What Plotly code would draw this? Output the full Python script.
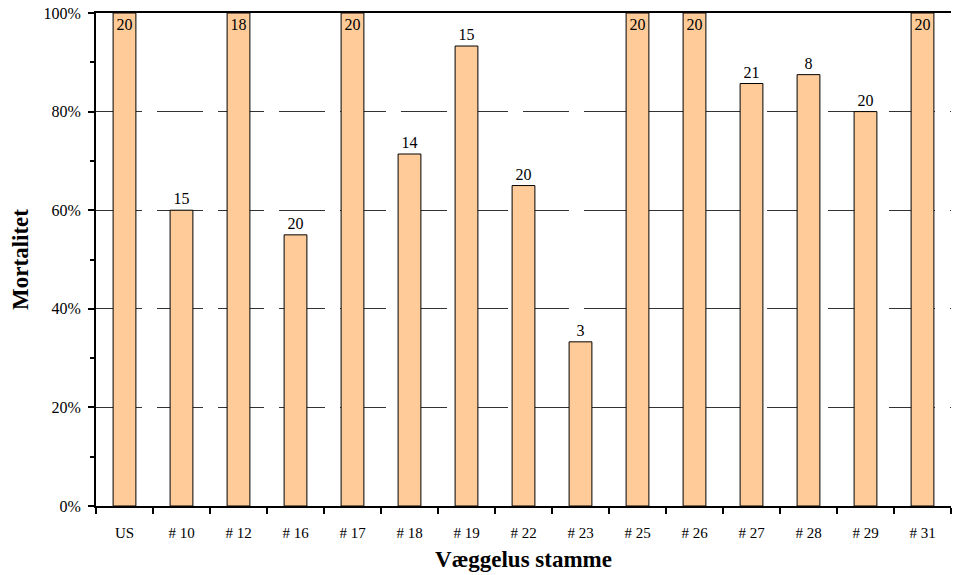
import plotly.graph_objects as go

categories = ["US", "# 10", "# 12", "# 16", "# 17", "# 18", "# 19", "# 22", "# 23",
              "# 25", "# 26", "# 27", "# 28", "# 29", "# 31"]
mortality = [100, 60, 100, 55, 100, 71.4, 93.3, 65, 33.3, 100, 100, 85.7, 87.5, 80, 100]
n_values = [20, 15, 18, 20, 20, 14, 15, 20, 3, 20, 20, 21, 8, 20, 20]
y_ticks = [0, 20, 40, 60, 80, 100]
y_tick_labels = ["0%", "20%", "40%", "60%", "80%", "100%"]

FONT = "Liberation Serif"

positions = ["inside" if v >= 99.9 else "outside" for v in mortality]

fig = go.Figure(go.Bar(
    x=categories,
    y=mortality,
    text=[str(n) for n in n_values],
    textposition=positions,
    insidetextanchor="end",
    textangle=0,
    constraintext="none",
    textfont=dict(family=FONT, size=16, color="black"),
    insidetextfont=dict(family=FONT, size=16, color="black"),
    outsidetextfont=dict(family=FONT, size=16, color="black"),
    marker=dict(color="#FFCC99", line=dict(color="black", width=1)),
    cliponaxis=False,
    hoverinfo="skip",
))

fig.update_layout(
    width=953, height=575,
    margin=dict(l=96, r=2, t=13, b=69, autoexpand=False),
    paper_bgcolor="white", plot_bgcolor="white",
    bargap=0.6,
    showlegend=False,
    font=dict(family=FONT, size=14, color="black"),
)

fig.update_xaxes(
    type="category",
    automargin=False,
    showline=True, linecolor="black", linewidth=2, mirror=True,
    ticks="outside", ticklen=6, tickwidth=2, tickcolor="black",
    tickson="boundaries",
    ticklabelstandoff=12,
    showgrid=False,
    tickfont=dict(family=FONT, size=15),
    title=dict(text="<b>Væggelus stamme</b>", font=dict(family=FONT, size=23), standoff=11),
)

fig.update_yaxes(
    range=[0, 100],
    automargin=False,
    tickvals=y_ticks, ticktext=y_tick_labels,
    showline=True, linecolor="black", linewidth=2,
    ticks="outside", ticklen=6, tickwidth=2, tickcolor="black",
    ticklabelstandoff=4,
    minor=dict(dtick=10, ticks="outside", ticklen=4, tickwidth=2, tickcolor="black", showgrid=False),
    showgrid=True, gridcolor="#333333", gridwidth=1, griddash="46px,15px",
    zeroline=False,
    tickfont=dict(family=FONT, size=16),
    title=dict(text="<b>Mortalitet</b>", font=dict(family=FONT, size=23), standoff=8),
)

post = ("document.body.style.margin='0';document.body.style.overflow='hidden';"
        "Plotly.relayout('{plot_id}', {width: 953, height: 575});")

fig.write_html("out.html", config={"responsive": False, "displayModeBar": False},
               post_script=post)
